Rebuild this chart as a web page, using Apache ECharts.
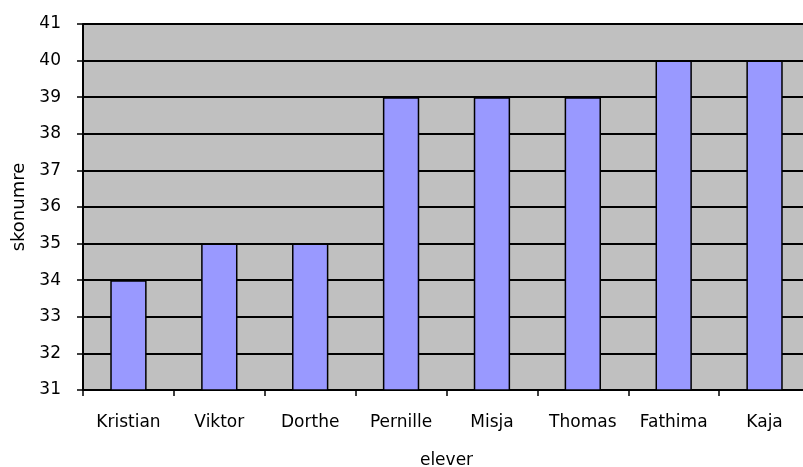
<!DOCTYPE html>
<html><head><meta charset="utf-8">
<script src="https://cdn.jsdelivr.net/npm/echarts@6/dist/echarts.min.js"></script>
<style>html,body{margin:0;padding:0;background:#fff;overflow:hidden}#c{width:803px;height:467px}</style>
</head><body><div id="c"></div>
<script>
const categories = ['Kristian','Viktor','Dorthe','Pernille','Misja','Thomas','Fathima','Kaja'];
const values = [34, 35, 35, 39, 39, 39, 40, 40];
const yMin = 31, yMax = 41, yStep = 1;

const chart = echarts.init(document.getElementById('c'), null, {renderer:'canvas'});
chart.setOption({
  animation:false,
  textStyle:{fontFamily:'DejaVu Sans, sans-serif'},
  grid:{left:83, top:24, width:727, height:366, outerBoundsMode:'none', containLabel:false,
        show:true, backgroundColor:'#c0c0c0', borderColor:'#a0a0a0', borderWidth:1},
  xAxis:{
    type:'category', data:categories, boundaryGap:true,
    name:'elever', nameLocation:'middle', nameGap:62,
    nameTextStyle:{fontSize:17, color:'#000'},
    axisLine:{lineStyle:{color:'#000', width:2}},
    axisTick:{show:true, alignWithLabel:false, length:6, lineStyle:{color:'#000', width:1.5}},
    axisLabel:{color:'#000', fontSize:17, margin:24}
  },
  yAxis:{
    type:'value', min:yMin, max:yMax, interval:yStep,
    name:'skonumre', nameLocation:'middle', nameGap:54, nameRotate:90,
    nameTextStyle:{fontSize:18, color:'#000'},
    axisLine:{show:true, lineStyle:{color:'#000', width:2}},
    axisTick:{show:true, length:6, lineStyle:{color:'#000', width:1.5}},
    axisLabel:{color:'#000', fontSize:17, margin:22},
    splitLine:{show:true, lineStyle:{color:'#000', width:1.8}}
  },
  series:[{
    type:'bar', data:values, barWidth:'40%',
    itemStyle:{color:'#9999ff', borderColor:'#000', borderWidth:1.5}
  }]
});
</script></body></html>
